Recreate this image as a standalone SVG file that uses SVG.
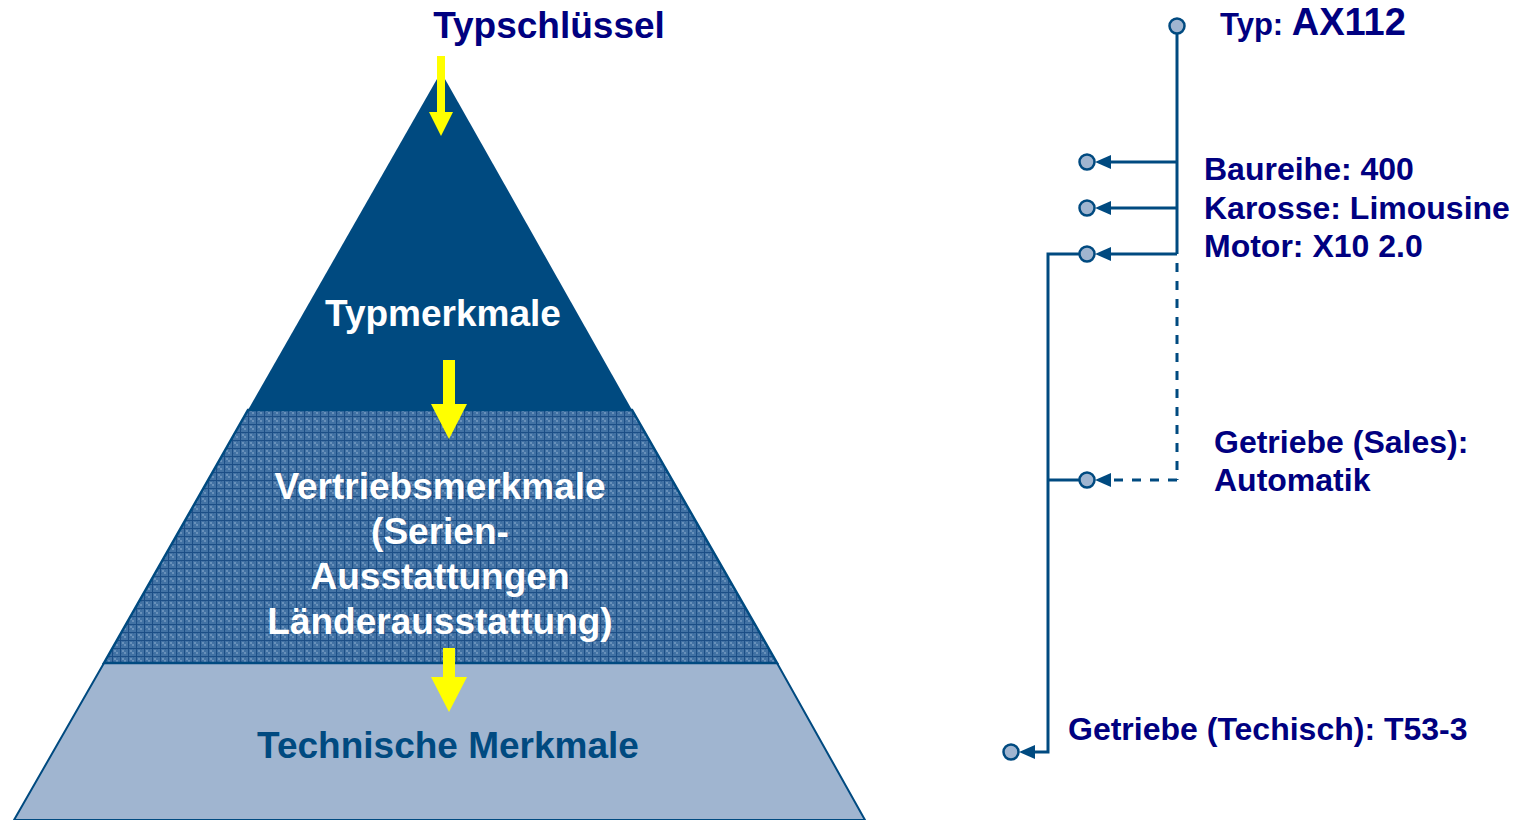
<svg xmlns="http://www.w3.org/2000/svg" width="1521" height="820" viewBox="0 0 1521 820">
<style>
.nv{font-family:"Liberation Sans",Arial,sans-serif;font-weight:bold;fill:#000080}
.wt{font-family:"Liberation Sans",Arial,sans-serif;font-weight:bold;fill:#ffffff;font-size:37px;text-anchor:middle}
.ln{stroke:#004a80;stroke-width:3;fill:none}
.dl{stroke:#004a80;stroke-width:3;fill:none;stroke-dasharray:9,9}
.dot{fill:#a0b5d0;stroke:#004a80;stroke-width:2.5}
.ah{fill:#004a80}
.yl{fill:#ffff00}
</style>
<defs>
<pattern id="grid" width="8" height="8" patternUnits="userSpaceOnUse">
<rect width="8" height="8" fill="#4272a4"/>
<rect x="2" y="2" width="2" height="2" fill="#6890ba"/>
<rect x="4" y="4" width="2" height="2" fill="#6890ba"/>
<rect x="5" y="1" width="1" height="1" fill="#36669a"/>
<rect x="1" y="5" width="1" height="1" fill="#36669a"/>
<rect x="0" y="0" width="8" height="1" fill="#1c4e86"/>
<rect x="0" y="0" width="1" height="8" fill="#1c4e86"/>
</pattern>
</defs>
<rect width="1521" height="820" fill="#ffffff"/>
<g id="pyramid">
<g id="level-technisch">
<polygon points="104,663 777,663 865,820 14,820" fill="#a0b5d0" stroke="#004a80" stroke-width="2"/>
<text x="448" y="758" class="nv" style="font-size:37px;fill:#004a80;text-anchor:middle">Technische Merkmale</text>
</g>
<g id="level-vertrieb">
<polygon points="248,410 632,410 777,663 104,663" fill="url(#grid)" stroke="#004a80" stroke-width="2.5"/>
<text class="wt"><tspan x="440" y="499">Vertriebsmerkmale</tspan><tspan x="440" y="544">(Serien-</tspan><tspan x="440" y="589">Ausstattungen</tspan><tspan x="440" y="634">Länderausstattung)</tspan></text>
</g>
<g id="level-typ">
<polygon points="441,72 632,410 248,410" fill="#004a80"/>
<text x="443" y="326" class="wt">Typmerkmale</text>
</g>
</g>
<g id="title">
<text x="549" y="38" class="nv" style="font-size:37px;text-anchor:middle">Typschlüssel</text>
</g>
<g id="yellow-arrows">
<polygon class="yl" points="437,56 445,56 445,112 453,112 441,136 429,112 437,112"/>
<polygon class="yl" points="443,360 455,360 455,404 467,404 449,439 431,404 443,404"/>
<polygon class="yl" points="443,648 455,648 455,677 467,677 449,712 431,677 443,677"/>
</g>
<g id="connectors">
<line class="ln" x1="1177" y1="33" x2="1177" y2="254"/>
<line class="dl" x1="1177" y1="263" x2="1177" y2="480"/>
<line class="ln" x1="1177" y1="162" x2="1108" y2="162"/>
<polygon class="ah" points="1095,162 1111,155 1111,169"/>
<line class="ln" x1="1177" y1="208" x2="1108" y2="208"/>
<polygon class="ah" points="1095,208 1111,201 1111,215"/>
<line class="ln" x1="1177" y1="254" x2="1108" y2="254"/>
<polygon class="ah" points="1095,254 1111,247 1111,261"/>
<path class="dl" d="M1177,480 L1110,480"/>
<polygon class="ah" points="1095,480 1111,473 1111,487"/>
<path class="ln" d="M1079,254 L1048,254 L1048,752 L1032,752"/>
<polygon class="ah" points="1019,752 1035,745 1035,759"/>
<line class="ln" x1="1048" y1="480" x2="1079" y2="480"/>
</g>
<g id="node-typ">
<circle class="dot" cx="1177" cy="26" r="7.5"/>
<text x="1220" y="35" class="nv" style="font-size:31px">Typ: <tspan style="font-size:38px">AX112</tspan></text>
</g>
<g id="node-baureihe">
<circle class="dot" cx="1087" cy="162" r="7.5"/>
<text x="1204" y="180" class="nv" style="font-size:32px">Baureihe: 400</text>
</g>
<g id="node-karosse">
<circle class="dot" cx="1087" cy="208" r="7.5"/>
<text x="1204" y="219" class="nv" style="font-size:32px">Karosse: Limousine</text>
</g>
<g id="node-motor">
<circle class="dot" cx="1087" cy="254" r="7.5"/>
<text x="1204" y="257" class="nv" style="font-size:32px">Motor: X10 2.0</text>
</g>
<g id="node-getriebe-sales">
<circle class="dot" cx="1087" cy="480" r="7.5"/>
<text class="nv" style="font-size:32px"><tspan x="1214" y="453">Getriebe (Sales):</tspan><tspan x="1214" y="491">Automatik</tspan></text>
</g>
<g id="node-getriebe-tech">
<circle class="dot" cx="1011" cy="752" r="7.5"/>
<text x="1068" y="740" class="nv" style="font-size:32px">Getriebe (Techisch): T53-3</text>
</g>
</svg>
